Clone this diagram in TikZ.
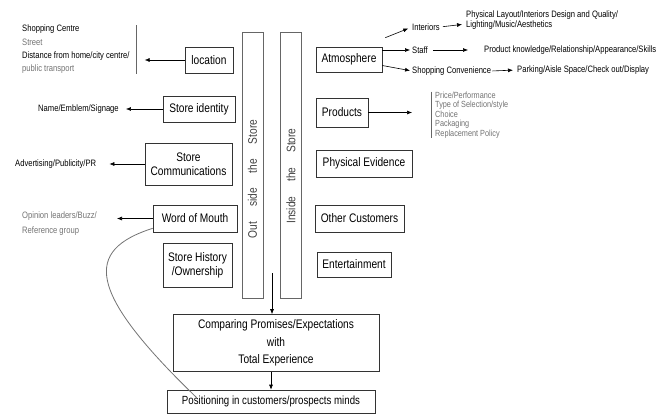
\documentclass[tikz,border=0pt]{standalone}
\usepackage{fontspec}
\setmainfont{Liberation Sans}[FakeStretch=0.82]
\usetikzlibrary{arrows.meta}
\newcommand{\gap}{\hspace{1.2em}}

\tikzset{
  blk/.style={draw=black!80, line width=0.6pt, inner sep=1pt, align=center,
    font=\fontsize{12.4}{14}\selectfont},
  bar/.style={draw=black!60, line width=0.7pt, minimum width=21pt,
    minimum height=266pt, inner sep=0pt},
  note/.style={anchor=west, inner sep=0pt, align=left,
    font=\fontsize{9.3}{10}\selectfont},
  conn/.style={-{Latex[length=5pt,width=4pt]}, line width=0.6pt},
  fade/.style={text=black!55},
}

\begin{document}
\begin{tikzpicture}[x=1pt, y=-1pt]
    \useasboundingbox (0,0) rectangle (672,417);

    % outside / inside bars
    \node[bar] (outbar) at (252.5,165) {};
    \node[bar] (inbar) at (290.5,165) {};
    \node[rotate=90, text=black!75, font=\fontsize{12.4}{14}\selectfont] (outtext) at (252.5,179) {Out\gap side\gap the\gap Store};
    \node[rotate=90, text=black!75, font=\fontsize{12.4}{14}\selectfont] (intext) at (291,176) {Inside\gap the\gap Store};

    % left column
    \node[blk, minimum width=48pt, minimum height=26pt] (loc) at (209,60) {location};
    \node[blk, minimum width=72pt, minimum height=26pt] (ident) at (199,109) {Store identity};
    \node[blk, minimum width=87pt, minimum height=42pt] (comm) at (188.5,164) {Store\\Communications};
    \node[blk, minimum width=84pt, minimum height=27pt] (wom) at (195,218.5) {Word of Mouth};
    \node[blk, minimum width=69pt, minimum height=44pt] (hist) at (197.5,265) {Store History\\/Ownership};

    \node[note, font=\fontsize{9.3}{13.3}\selectfont] (locnote) at (22,49.5) {Shopping Centre\\ \textcolor{black!55}{Street}\\ Distance from home/city centre/\\ \textcolor{black!55}{public transport}};
    \node[note] (identnote) at (38,109) {Name/Emblem/Signage};
    \node[note] (commnote) at (15,164) {Advertising/Publicity/PR};
    \node[note, fade, font=\fontsize{9.3}{15}\selectfont] (womnote) at (22,223.5) {Opinion leaders/Buzz/\\Reference group};

    \draw[black!60, line width=0.8pt] ([xshift=7pt]locnote.north east) -- ([xshift=7pt]locnote.south east);
    \draw[conn, shorten >=15pt] (loc.west) -- (loc.west -| locnote.east);
    \draw[conn, shorten >=7pt] (ident.west) -- (identnote.east);
    \draw[conn, shorten >=13pt] (comm.west) -- (commnote.east);
    \draw[conn, shorten >=20pt] (wom.west) -- (wom.west -| womnote.east);

    % right column
    \node[blk, minimum width=66pt, minimum height=25pt] (atmo) at (349,59.5) {Atmosphere};
    \node[blk, minimum width=52pt, minimum height=29pt] (prod) at (342,112.5) {Products};
    \node[blk, minimum width=96pt, minimum height=27pt] (phys) at (364,163.5) {Physical Evidence};
    \node[blk, minimum width=89pt, minimum height=27pt] (other) at (359.5,218.5) {Other Customers};
    \node[blk, minimum width=74pt, minimum height=25pt] (ent) at (354,264.5) {Entertainment};

    \node[note] (interiors) at (412,27) {Interiors};
    \node[note, font=\fontsize{9.3}{10}\selectfont] (physnote) at (466,20) {Physical Layout/Interiors Design and Quality/\\Lighting/Music/Aesthetics};
    \node[note] (staff) at (412,50) {Staff};
    \node[note] (knownote) at (484,50) {Product knowledge/Relationship/Appearance/Skills};
    \node[note] (shop) at (412,71) {Shopping Convenience};
    \node[note] (parknote) at (517,70) {Parking/Aisle Space/Check out/Display};
    \node[note, fade, font=\fontsize{8.9}{9.5}\selectfont] (prodnote) at (435,115) {Price/Performance\\Type of Selection/style\\Choice\\Packaging\\Replacement Policy};

    \draw[conn, shorten >=4pt] ([xshift=3pt,yshift=9pt]atmo.north east) -- (interiors.west);
    \draw[conn, shorten >=2pt] (atmo.east |- staff.west) -- (staff.west);
    \draw[conn, shorten >=2pt] ([yshift=-6pt]atmo.east) -- (shop.west);
    \draw[conn, shorten <=3pt, shorten >=4pt] (interiors.east) -- ([yshift=-4pt]physnote.west);
    \draw[conn, shorten <=5pt, shorten >=16pt] (staff.east) -- (knownote.west);
    \draw[conn, shorten <=1pt, shorten >=4pt] (shop.east) -- (parknote.west);
    \draw[black!60, line width=0.8pt] ([xshift=-4pt]prodnote.north west) -- ([xshift=-4pt]prodnote.south west);
    \draw[conn, shorten >=23pt] (prod.east) -- (prod.east -| prodnote.west);

    % bottom
    \node[blk, minimum width=206pt, minimum height=57pt, font=\fontsize{12.4}{17.5}\selectfont] (comp) at (276,343) {Comparing Promises/Expectations\\with\\Total Experience};
    \node[blk, minimum width=208pt, minimum height=23pt, font=\fontsize{11.8}{14}\selectfont] (pos) at (271,401.5) {Positioning in customers/prospects minds};

    \coordinate (barsend) at (272,273);
    \draw[conn] (barsend) -- (barsend |- comp.north);
    \draw[conn] (pos.north |- comp.south) -- (pos.north);
    \draw[black!55, line width=0.8pt] ([yshift=4pt]wom.south west) .. controls (85,250) and (85,290) .. ([xshift=30pt,yshift=-8pt]pos.north west);
\end{tikzpicture}
\end{document}
